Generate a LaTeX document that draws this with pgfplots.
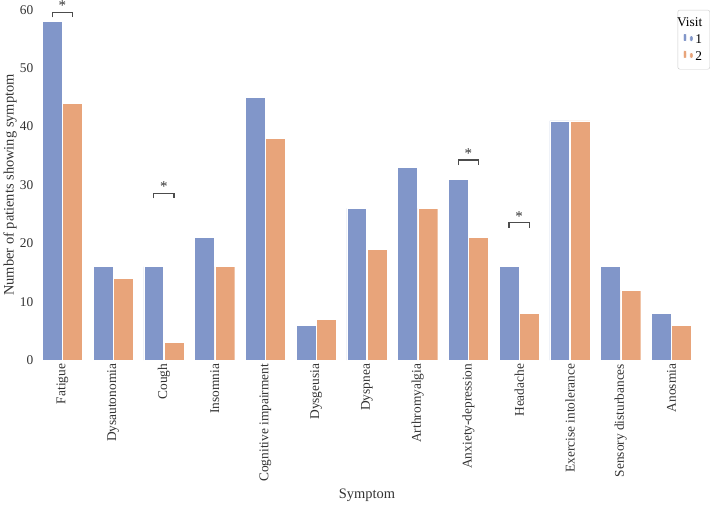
\documentclass[border=0pt]{standalone}
\usepackage{pgfplots}
\pgfplotsset{compat=1.18}
\usepackage{fontspec}
\setmainfont{Liberation Serif}
\definecolor{cb}{RGB}{129,150,201}
\definecolor{co}{RGB}{232,164,122}
\newcommand{\sig}[2]{%
  \draw[black!70, line width=1.2pt] (axis cs:#1-0.2,#2-0.9) -- (axis cs:#1-0.2,#2) -- (axis cs:#1+0.2,#2) -- (axis cs:#1+0.2,#2-0.9);
  \node[black!80, font=\fontsize{14}{14}\selectfont, anchor=south, inner sep=1pt] at (axis cs:#1,#2) {*};}
\begin{document}
\begin{tikzpicture}[x=1bp,y=1bp]
\begin{axis}[
  scale only axis, width=614bp, height=326bp,
  xmin=-0.5, xmax=12.5, ymin=0, ymax=60,
  axis line style={draw=none}, major tick length=0,
  ytick={0,10,...,60},
  xtick={0,...,12},
  xticklabels={Fatigue,Dysautonomia,Cough,Insomnia,Cognitive impairment,Dysgeusia,Dyspnea,Arthromyalgia,Anxiety-depression,Headache,Exercise intolerance,Sensory disturbances,Anosmia},
  x tick label style={rotate=90, anchor=east},
  tick label style={font=\fontsize{12.5}{15}\selectfont, text=black!80},
  /pgf/number format/assume math mode=true,
  label style={font=\fontsize{13.5}{16}\selectfont, text=black!80},
  xlabel={Symptom}, ylabel={Number of patients showing symptom},
  ylabel style={yshift=-4bp},
  ybar, bar width=0.39,
  legend style={at={(1.02,1)}, anchor=north east, draw=black!20, rounded corners=2pt,
    font=\fontsize{12.5}{15}\selectfont, row sep=2pt, inner sep=5pt},
  legend cell align=left,
  clip=false,
]
\addlegendimage{empty legend}
\addlegendentry{\hspace{-0.6cm}Visit}
\addplot[fill=cb, draw=white, bar shift=-0.2] coordinates {(0,58)(1,16)(2,16)(3,21)(4,45)(5,6)(6,26)(7,33)(8,31)(9,16)(10,41)(11,16)(12,8)};
\addlegendentry{1}
\addplot[fill=co, draw=white, bar shift=0.2] coordinates {(0,44)(1,14)(2,3)(3,16)(4,38)(5,7)(6,19)(7,26)(8,21)(9,8)(10,41)(11,12)(12,6)};
\addlegendentry{2}
\sig{0}{59.6}
\sig{2}{28.6}
\sig{8}{34.3}
\sig{9}{23.6}
\end{axis}
\end{tikzpicture}
\end{document}
